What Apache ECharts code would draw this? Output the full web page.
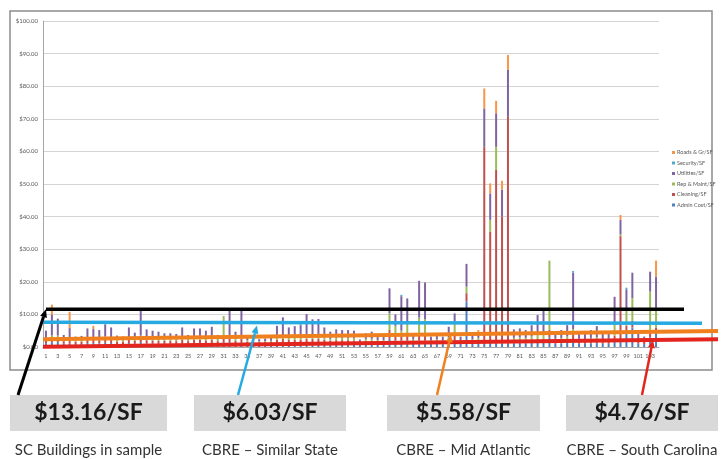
<!DOCTYPE html>
<html>
<head>
<meta charset="utf-8">
<script src="https://cdn.jsdelivr.net/npm/echarts@6/dist/echarts.min.js"></script>
<style>
  html, body { margin: 0; padding: 0; background: #ffffff; }
  #chart { width: 723px; height: 459px; }
</style>
</head>
<body>
<div id="chart"></div>
<script>
// Building numbers along the x axis
const buildings = [
  '1','2','3','4','5','6','7','8','9','10','11','12','13','14','15','16','17','18','19','20',
  '21','22','23','24','25','26','27','28','29','30','31','32','33','34','35','36','37','38','39','40',
  '41','42','43','44','45','46','47','48','49','50','51','52','53','54','55','56','57','58','59','60',
  '61','62','63','64','65','66','67','68','69','70','71','72','73','74','75','76','77','78','79','80',
  '81','82','83','84','85','86','87','88','89','90','91','92','93','94','95','96','97','98','99','100',
  '101','102','103','104'
];

// Cost per square foot by component ($/SF)
const adminCost = [
  1.2,1.5,1.5,1.0,1.0,0.9,0.9,1.2,1.2,1.1,
  1.3,1.2,0.9,0.9,1.2,1.0,1.5,1.1,1.1,1.0,
  1.0,1.0,1.0,1.2,1.0,1.2,1.2,1.1,1.2,1.0,
  1.5,1.5,1.0,1.5,0.8,0.8,0.7,0.8,0.8,1.2,
  1.5,1.2,1.2,1.3,1.5,1.5,1.5,1.2,1.0,1.1,
  1.1,1.1,1.1,0.7,1.0,1.0,0.9,0.9,2.5,2.0,
  2.0,2.0,1.0,2.0,2.0,0.9,1.0,0.9,1.2,2.0,
  0.9,14.0,1.0,1.1,1.0,1.0,1.0,1.0,1.0,1.1,
  1.2,1.1,1.3,1.5,1.5,3.0,1.0,1.1,1.3,2.0,
  1.0,1.0,1.1,1.2,1.0,1.0,2.0,1.5,5.0,6.0,
  1.0,0.9,3.0,4.0
];
const cleaning = [
  1.0,1.0,1.0,0.8,1.0,0.8,0.8,1.0,1.0,1.0,
  1.0,1.0,0.8,0.8,1.0,0.9,1.0,1.0,0.9,0.9,
  0.9,0.9,0.8,1.0,0.8,1.0,1.0,0.9,1.0,0.8,
  1.0,1.0,0.9,1.0,0.8,0.7,0.7,0.7,0.7,1.0,
  1.0,1.0,1.0,1.0,1.0,1.0,1.0,1.0,0.9,1.0,
  1.0,1.0,0.9,0.6,0.9,0.9,0.8,0.8,2.7,1.5,
  1.5,1.5,0.8,2.0,2.0,0.8,0.8,0.8,1.0,1.5,
  0.8,2.5,0.8,1.0,60.4,34.4,53.3,39.0,69.6,1.0,
  1.0,1.0,1.0,1.0,1.0,2.2,0.9,1.0,1.0,2.0,
  0.9,0.8,1.0,1.0,0.8,0.9,1.5,32.5,1.5,2.0,
  0.8,0.8,2.0,2.0
];
const repMaint = [
  0.6,1.0,1.0,0.5,1.0,0.4,0.5,0.8,0.8,0.7,
  0.9,0.8,0.5,0.4,0.8,0.6,1.0,0.7,0.7,0.6,
  0.6,0.6,0.6,0.8,0.5,0.8,0.8,0.7,0.8,0.5,
  7.0,1.0,0.6,1.0,0.4,0.3,0.3,0.3,0.4,0.8,
  1.0,0.8,0.8,0.9,1.0,1.0,1.0,0.8,0.6,0.7,
  0.7,0.7,0.7,0.3,0.6,0.6,0.4,0.4,5.1,3.0,
  1.5,4.0,0.5,5.0,4.5,0.4,0.5,0.4,0.8,3.5,
  0.4,2.0,0.5,0.7,0,3.6,7.1,0,0,0.7,
  0.8,0.7,0.9,1.5,2.0,21.3,0.6,0.7,0.9,1.5,
  0.6,0.6,0.7,0.8,0.6,0.6,4.0,0.5,5.0,7.0,
  0.6,0.4,12.0,6.0
];
const utilities = [
  2.2,6.5,5.2,1.4,2.8,1.1,1.2,2.7,2.5,2.4,
  3.6,3.0,1.3,1.1,3.0,1.9,7.7,2.6,2.3,2.2,
  1.7,1.7,1.6,3.0,1.4,2.7,2.7,2.3,3.2,1.4,
  0,8.0,2.2,7.8,1.0,0.8,0.7,0.8,0.9,3.5,
  5.6,3.0,3.4,3.5,6.6,5.0,5.1,3.0,2.2,2.6,
  2.4,2.4,2.3,0.7,1.7,2.2,1.1,1.1,7.7,3.5,
  10.6,7.4,1.4,11.3,11.3,1.1,1.4,1.1,3.2,3.3,
  1.1,7.0,1.5,1.4,11.8,8.1,10.3,8.2,14.4,2.6,
  2.7,2.4,3.5,5.8,6.6,0,1.9,2.4,3.5,17.3,
  2.2,1.7,2.4,3.4,1.7,1.9,7.9,4.5,6.2,7.8,
  1.6,1.1,6.1,9.6
];
const security = [
  0,0,0,0,0,0,0,0,0,0,
  0.3,0,0,0,0,0,0,0,0,0,
  0,0,0,0,0,0,0,0,0,0,
  0,0,0,0,0,0,0,0,0,0,
  0,0,0,0.3,0,0,0,0,0,0,
  0,0,0,0,0,0,0,0,0,0,
  0.4,0,0,0,0,0,0,0,0,0,
  0,0,0,0,0,0,0,0,0,0,
  0,0,0,0,0,0,0,0,0,0.5,
  0,0,0,0,0,0,0,0,0.5,0,
  0,0,0,0
];
const roadsGrounds = [
  0,3.0,0,0,5.0,0,0,0,1.0,0,
  0,0,0,0,0,0,0,0,0,0,
  0,0,0,0,0,0,0,0,0,0,
  0,0,0,0,0,0,0,0,0,0,
  0,0,0,0,0,0,0,0,0,0,
  0,0,0,0,0,0,0,0,0,0,
  0,0,0,0,0,0,0,0,0,0,
  0,0,0,1.0,6.1,3.1,3.8,2.8,4.6,0,
  0,0,0,0,0,0,0,0,0,0,
  0,0,0,0,0,0,0,1.5,0,0,
  0,0,0,4.9
];

// Reference levels drawn across the chart, [left end, right end] in $/SF
const scSampleLevel = [11.6, 11.6];
const similarStateLevel = [7.6, 7.3];
const midAtlanticLevel = [2.4, 4.9];
const southCarolinaLevel = [0.1, 2.4];

// Summary figures shown under the chart
const summaryValues = ['$13.16/SF', '$6.03/SF', '$5.58/SF', '$4.76/SF'];
const summaryLabels = ['SC Buildings in sample', 'CBRE \u2013 Similar State', 'CBRE \u2013 Mid Atlantic', 'CBRE \u2013 South Carolina'];

const seriesDefs = [
  { name: 'Admin Cost/SF', data: adminCost, color: '#4F81BD' },
  { name: 'Cleaning/SF', data: cleaning, color: '#C0504D' },
  { name: 'Rep & Maint/SF', data: repMaint, color: '#9BBB59' },
  { name: 'Utilities/SF', data: utilities, color: '#8064A2' },
  { name: 'Security/SF', data: security, color: '#4BACC6' },
  { name: 'Roads & Gr/SF', data: roadsGrounds, color: '#F79646' }
];

const chart = echarts.init(document.getElementById('chart'), null, { renderer: 'canvas' });

chart.setOption({
  backgroundColor: '#ffffff',
  animation: false,
  textStyle: { fontFamily: 'Lato, "Liberation Sans", sans-serif' },
  grid: { left: 43, right: 64, top: 21, bottom: 112, containLabel: false },
  legend: {
    orient: 'vertical',
    left: 672,
    top: 149,
    padding: 0,
    itemWidth: 3,
    itemHeight: 3,
    itemGap: 3.5,
    icon: 'rect',
    data: ['Roads & Gr/SF', 'Security/SF', 'Utilities/SF', 'Rep & Maint/SF', 'Cleaning/SF', 'Admin Cost/SF'],
    textStyle: { fontSize: 5.5, color: '#595959', lineHeight: 7, padding: [0, 0, 0, -3] }
  },
  xAxis: {
    type: 'category',
    data: buildings,
    axisLine: { show: true, lineStyle: { color: '#a6a6a6', width: 1 } },
    axisTick: { show: false },
    axisLabel: { interval: 1, fontSize: 5.5, color: '#595959', margin: 6 }
  },
  yAxis: {
    type: 'value',
    min: 0,
    max: 100,
    interval: 10,
    axisLine: { show: true, lineStyle: { color: '#a6a6a6', width: 1 } },
    axisTick: { show: false },
    splitLine: { lineStyle: { color: '#d4d4d4', width: 1 } },
    axisLabel: { fontSize: 6, color: '#595959', margin: 5, formatter: v => '$' + v.toFixed(2) }
  },
  series: seriesDefs.map(s => ({
    name: s.name,
    type: 'bar',
    stack: 'cost',
    barWidth: 2,
    data: s.data,
    itemStyle: { color: s.color }
  }))
});

// Annotations: reference lines, arrows and summary boxes
const yPx = v => chart.convertToPixel({ yAxisIndex: 0 }, v);
const lineAt = (x0, x1, level, x) => {
  const y0 = yPx(level[0]), y1 = yPx(level[1]);
  return y0 + (y1 - y0) * (x - x0) / (x1 - x0);
};

const refLines = [
  { level: southCarolinaLevel, x0: 43, x1: 718, color: '#E3251E', width: 4 },
  { level: midAtlanticLevel, x0: 43, x1: 718, color: '#F0801E', width: 4 },
  { level: similarStateLevel, x0: 43, x1: 702, color: '#27A9E1', width: 3.5 },
  { level: scSampleLevel, x0: 46, x1: 684, color: '#000000', width: 3.5 }
];

const arrows = [
  { from: 18, tipX: 46, line: refLines[3], offset: 0, color: '#000000', width: 3 },
  { from: 238, tipX: 257, line: refLines[2], offset: 3, color: '#27A9E1', width: 2.5 },
  { from: 437, tipX: 451, line: refLines[1], offset: 0, color: '#F0801E', width: 2.5 },
  { from: 642, tipX: 653, line: refLines[0], offset: 0, color: '#E3251E', width: 2.5 }
];

const boxes = [
  { x: 10, w: 157 },
  { x: 194, w: 152 },
  { x: 387, w: 153 },
  { x: 566, w: 152 }
];
const boxTop = 395, boxH = 36;

const elements = [];

// chart frame
elements.push({
  type: 'rect', z: 1,
  shape: { x: 10, y: 11, width: 702, height: 359 },
  style: { fill: null, stroke: '#8c8c8c', lineWidth: 1.5 }
});

refLines.forEach(r => {
  elements.push({
    type: 'line', z: 100,
    shape: { x1: r.x0, y1: yPx(r.level[0]), x2: r.x1, y2: yPx(r.level[1]) },
    style: { stroke: r.color, lineWidth: r.width }
  });
});

arrows.forEach(a => {
  const sx = a.from, sy = boxTop;
  const tx = a.tipX, ty = lineAt(a.line.x0, a.line.x1, a.line.level, a.tipX) + a.offset;
  const dx = tx - sx, dy = ty - sy;
  const len = Math.sqrt(dx * dx + dy * dy);
  const ux = dx / len, uy = dy / len;
  const head = 8, half = 3.5;
  const bx = tx - ux * head, by = ty - uy * head;
  elements.push({
    type: 'line', z: 101,
    shape: { x1: sx, y1: sy, x2: bx, y2: by },
    style: { stroke: a.color, lineWidth: a.width }
  });
  elements.push({
    type: 'polygon', z: 101,
    shape: { points: [[tx, ty], [bx - uy * half, by + ux * half], [bx + uy * half, by - ux * half]] },
    style: { fill: a.color }
  });
});

boxes.forEach((b, i) => {
  elements.push({
    type: 'rect', z: 50,
    shape: { x: b.x, y: boxTop, width: b.w, height: boxH },
    style: { fill: '#d9d9d9' }
  });
  elements.push({
    type: 'text', z: 51,
    x: b.x + b.w / 2, y: boxTop + boxH / 2,
    style: {
      text: summaryValues[i], fill: '#1a1a1a',
      font: 'bold 23px Lato, "Liberation Sans", sans-serif',
      align: 'center', verticalAlign: 'middle'
    }
  });
  elements.push({
    type: 'text', z: 51,
    x: b.x + b.w / 2, y: 450,
    style: {
      text: summaryLabels[i], fill: '#333333',
      font: '15px Lato, "Liberation Sans", sans-serif',
      align: 'center', verticalAlign: 'middle'
    }
  });
});

chart.setOption({ graphic: { elements: elements } });
</script>
</body>
</html>
